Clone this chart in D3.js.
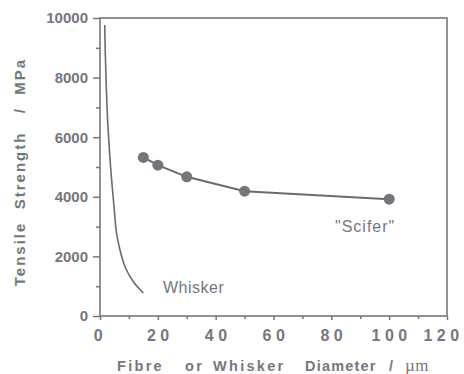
<!DOCTYPE html>
<html>
<head>
<meta charset="utf-8">
<script src="https://cdn.jsdelivr.net/npm/d3@7"></script>
<style>
  body { margin: 0; background: #fff; }
  svg text { font-family: "Liberation Sans", Arial, sans-serif; }
</style>
</head>
<body>
<div id="chart"></div>
<script>
// data
const sciferDiam = [15, 20, 30, 50, 100];
const sciferStrength = [5320, 5060, 4670, 4190, 3920];

const whiskerDiam = [1.63, 1.83, 2.63, 3.12, 3.74, 4.85, 5.71, 6.92, 8.65, 11.6, 15];
const whiskerStrength = [9765, 8826, 6577, 5795, 4899, 3668, 2785, 2215, 1654, 1141, 772];

const xTicks = [0, 20, 40, 60, 80, 100, 120];
const yTicks = [0, 2000, 4000, 6000, 8000, 10000];

const xTitleWords = ["Fibre", "or", "Whisker", "Diameter", "/"];
const xTitleWordX = [117, 185, 213, 305, 389];
const xTitleWordSpacing = [2.3, 2.3, 2.3, 1.2, 0];

const width = 464, height = 374;
const margin = { top: 18, right: 17, bottom: 58, left: 100 };
const grey = "#76767d";

const svg = d3.select("#chart")
  .append("svg")
  .attr("width", width)
  .attr("height", height);

const x = d3.scaleLinear().domain([0, 120]).range([margin.left, width - margin.right]);
const y = d3.scaleLinear().domain([0, 10000]).range([height - margin.bottom, margin.top]);

// frame
svg.append("rect")
  .attr("x", x(0)).attr("y", y(10000))
  .attr("width", x(120) - x(0)).attr("height", y(0) - y(10000))
  .attr("fill", "none").attr("stroke", grey).attr("stroke-width", 1.6);

// minor ticks
const yAxisMinor = d3.axisLeft(y).tickValues(d3.range(1000, 10000, 2000)).tickSize(4).tickFormat("");
const xAxisMinor = d3.axisBottom(x).tickValues(d3.range(10, 120, 20)).tickSize(3).tickFormat("");

svg.append("g").attr("transform", `translate(${x(0)},0)`).call(yAxisMinor);
svg.append("g").attr("transform", `translate(0,${y(0)})`).call(xAxisMinor);

const yAxis = d3.axisLeft(y).tickValues(yTicks).tickSize(7).tickPadding(5).tickFormat(d3.format("d"));
const xAxis = d3.axisBottom(x).tickValues(xTicks).tickSize(4).tickPadding(10).tickFormat(d3.format("d"));

const gy = svg.append("g").attr("transform", `translate(${x(0)},0)`).call(yAxis);
const gx = svg.append("g").attr("transform", `translate(0,${y(0)})`).call(xAxis);

svg.selectAll(".domain").remove();
svg.selectAll(".tick line").attr("stroke", grey).attr("stroke-width", 1.5);

gy.selectAll("text")
  .attr("fill", grey)
  .style("font-size", "15px")
  .style("font-weight", "bold");

gx.selectAll("text")
  .attr("fill", grey)
  .style("font-size", "16px")
  .style("font-weight", "bold")
  .style("letter-spacing", "4.5px")
  .attr("dx", d => d === 120 ? "-4px" : (d === 0 ? "0px" : "2px"));

// whisker curve
const whisker = whiskerDiam.map((d, i) => [d, whiskerStrength[i]]);
svg.append("path")
  .datum(whisker)
  .attr("fill", "none")
  .attr("stroke", "#6a6a72")
  .attr("stroke-width", 1.6)
  .attr("d", d3.line().x(d => x(d[0])).y(d => y(d[1])).curve(d3.curveCatmullRom.alpha(0.5)));

// scifer line and points
const scifer = sciferDiam.map((d, i) => [d, sciferStrength[i]]);
svg.append("path")
  .datum(scifer)
  .attr("fill", "none")
  .attr("stroke", "#6a6a72")
  .attr("stroke-width", 2)
  .attr("d", d3.line().x(d => x(d[0])).y(d => y(d[1])));

svg.selectAll("circle.pt")
  .data(scifer)
  .join("circle")
  .attr("class", "pt")
  .attr("cx", d => x(d[0]))
  .attr("cy", d => y(d[1]))
  .attr("r", 5.5)
  .attr("fill", "#76757c");

// labels
svg.append("text")
  .attr("x", 163).attr("y", 293)
  .attr("fill", grey)
  .style("font-size", "16px")
  .style("letter-spacing", "0.5px")
  .text("Whisker");

svg.append("text")
  .attr("x", 335).attr("y", 232)
  .attr("fill", grey)
  .style("font-size", "16px")
  .style("letter-spacing", "1px")
  .text("\"Scifer\"");

// axis titles
const xt = svg.append("text")
  .attr("y", 371)
  .attr("fill", grey)
  .style("font-size", "14.5px")
  .style("font-weight", "bold");
xt.selectAll("tspan.w")
  .data(xTitleWords)
  .join("tspan")
  .attr("class", "w")
  .attr("x", (d, i) => xTitleWordX[i])
  .style("letter-spacing", (d, i) => xTitleWordSpacing[i] + "px")
  .text(d => d);
xt.append("tspan")
  .attr("x", 405)
  .style("font-family", "'Liberation Serif', serif")
  .style("font-weight", "normal")
  .style("letter-spacing", "0.5px")
  .style("font-size", "17px")
  .text("µm");

svg.append("text")
  .attr("transform", "translate(25,172) rotate(-90)")
  .attr("text-anchor", "middle")
  .attr("fill", "#6f7a74")
  .style("font-size", "15px")
  .style("font-weight", "bold")
  .style("letter-spacing", "2px")
  .attr("xml:space", "preserve")
  .text("Tensile  Strength   /  MPa");
</script>
</body>
</html>
